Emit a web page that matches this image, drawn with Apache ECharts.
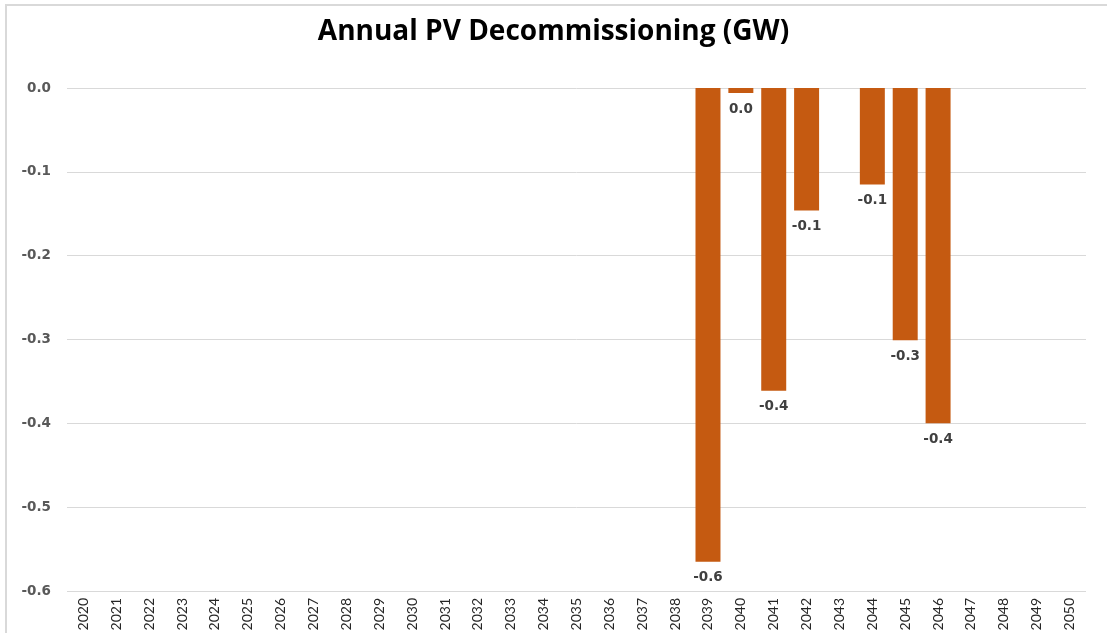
<!DOCTYPE html>
<html>
<head>
<meta charset="utf-8">
<title>Annual PV Decommissioning</title>
<script src="https://cdn.jsdelivr.net/npm/echarts@6/dist/echarts.min.js"></script>
<style>
	html, body { margin: 0; padding: 0; background: #fff; }
	#wrap { position: relative; width: 1107px; height: 636px; }
	#e1 { width: 1107px; height: 636px; }
	#frame {
		position: absolute; left: 5px; top: 4px; right: 0; bottom: 3px;
		border-left: 2px solid #d9d9d9; border-top: 2px solid #d9d9d9;
		pointer-events: none;
	}
</style>
</head>
<body>
<div id="wrap">
	<div id="e1"></div>
	<div id="frame"></div>
</div>
<script>
// years on the x axis
var years = [];
for (var y = 2020; y <= 2050; y++) { years.push(String(y)); }

// decommissioned capacity per year, GW (null = no bar)
var decommissioned = [
	null, null, null, null, null, null, null, null, null, null, // 2020-2029
	null, null, null, null, null, null, null, null, null,       // 2030-2038
	-0.565, -0.006, -0.361, -0.146, null, -0.115, -0.301, -0.400, // 2039-2046
	null, null, null, null                                     // 2047-2050
];

var yTicks = [0, -0.1, -0.2, -0.3, -0.4, -0.5, -0.6];

var e1 = echarts.init(document.getElementById('e1'));

function fmt1(v) {
	return (Math.round(v * 10) / 10).toFixed(1);
}

var option1 = {
	animation: false,
	backgroundColor: '#ffffff',
	title: {
		text: 'Annual PV Decommissioning (GW)',
		left: 'center',
		top: 13,
		textStyle: {
			color: '#000000',
			fontFamily: 'Open Sans',
			fontWeight: 'bold',
			fontSize: 28
		}
	},
	grid: {
		left: 67,
		right: 21,
		top: 88,
		bottom: 45,
		containLabel: false
	},
	xAxis: {
		type: 'category',
		data: years,
		axisLine: { show: false, onZero: false },
		axisTick: { show: false },
		axisLabel: {
			rotate: 90,
			interval: 0,
			margin: 7,
			color: '#262626',
			fontFamily: 'Lato',
			fontSize: 14
		}
	},
	yAxis: {
		type: 'value',
		min: yTicks[yTicks.length - 1],
		max: yTicks[0],
		interval: 0.1,
		axisLine: { show: false },
		axisTick: { show: false },
		splitLine: { lineStyle: { color: '#d9d9d9', width: 1 } },
		axisLabel: {
			margin: 16,
			color: '#595959',
			fontFamily: 'DejaVu Sans',
			fontWeight: 'bold',
			fontSize: 13.5,
			formatter: function(v) { return fmt1(v); }
		}
	},
	series: [{
		name: 'Decommissioning',
		type: 'bar',
		data: decommissioned,
		barCategoryGap: '24%',
		itemStyle: { color: '#c55a11' },
		label: {
			show: true,
			position: 'bottom',
			distance: 9,
			color: '#404040',
			fontFamily: 'DejaVu Sans',
			fontWeight: 'bold',
			fontSize: 13.5,
			formatter: function(p) { return fmt1(p.value); }
		}
	}]
};
e1.setOption(option1);
</script>
</body>
</html>
